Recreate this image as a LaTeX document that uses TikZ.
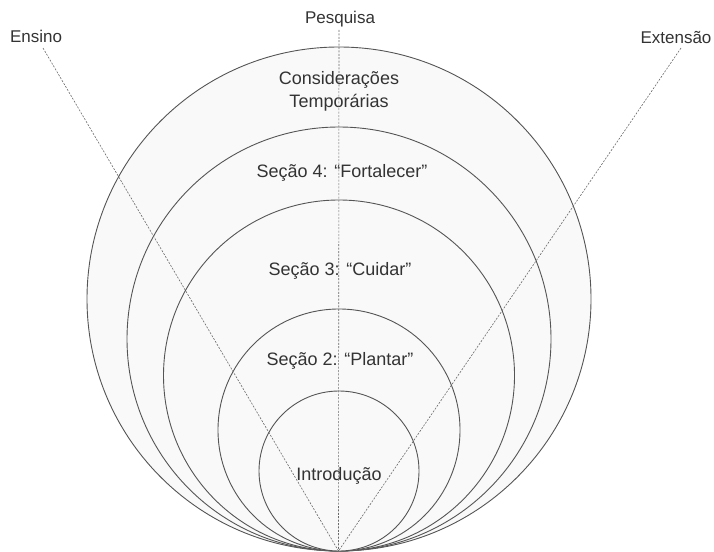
\documentclass[tikz,border=0pt]{standalone}
\usepackage{fontspec}
\setmainfont{Liberation Sans}
\definecolor{ringgray}{HTML}{555555}
\definecolor{ringfill}{HTML}{F9F9F9}
\definecolor{axisgray}{HTML}{6A6A6A}
\definecolor{textgray}{HTML}{333333}
\begin{document}
\begin{tikzpicture}[x=1pt,y=-1pt,
  ring/.style={draw=ringgray, line width=0.9pt, fill=ringfill},
  axisline/.style={draw=axisgray, line width=0.6pt, dash pattern=on 2pt off 1.4pt},
  lbl/.style={font=\fontsize{18}{21}\selectfont, text=textgray, inner sep=0pt, anchor=base},
  axislbl/.style={font=\fontsize{17}{20}\selectfont, text=textgray, inner sep=0pt, anchor=base}]
\useasboundingbox (0,0) rectangle (714,551);

% nested circles, all touching the common point at the bottom
\coordinate (apex) at (338.5,551);
\draw[ring] (339,299) circle[radius=252pt];
\draw[ring] (339,339) circle[radius=212pt];
\draw[ring] (339,375.5) circle[radius=175.5pt];
\draw[ring] (339,430) circle[radius=121pt];
\draw[ring] (339,471) circle[radius=80pt];

% section labels
\node[lbl] (consid) at (339,84) {Considerações};
\node[lbl] (tempor) at (339,107) {Temporárias};
\node[lbl] (sec4) at (342,177) {Seção 4: “Fortalecer”};
\node[lbl] (sec3) at (340,275) {Seção 3: “Cuidar”};
\node[lbl] (sec2) at (340,365) {Seção 2: “Plantar”};
\node[lbl] (intro) at (339,480) {Introdução};

% the three axes
\node[axislbl] (ensino) at (36,43) {Ensino};
\node[axislbl] (pesquisa) at (340,24) {Pesquisa};
\node[axislbl] (extensao) at (676,44) {Extensão};
\coordinate (ensinoEnd) at (43,48);
\coordinate (pesquisaEnd) at (339,30);
\coordinate (extensaoEnd) at (681,48);
\draw[axisline] (ensinoEnd) -- (apex);
\draw[axisline] (pesquisaEnd) -- (apex);
\draw[axisline] (extensaoEnd) -- (apex);
\end{tikzpicture}
\end{document}
